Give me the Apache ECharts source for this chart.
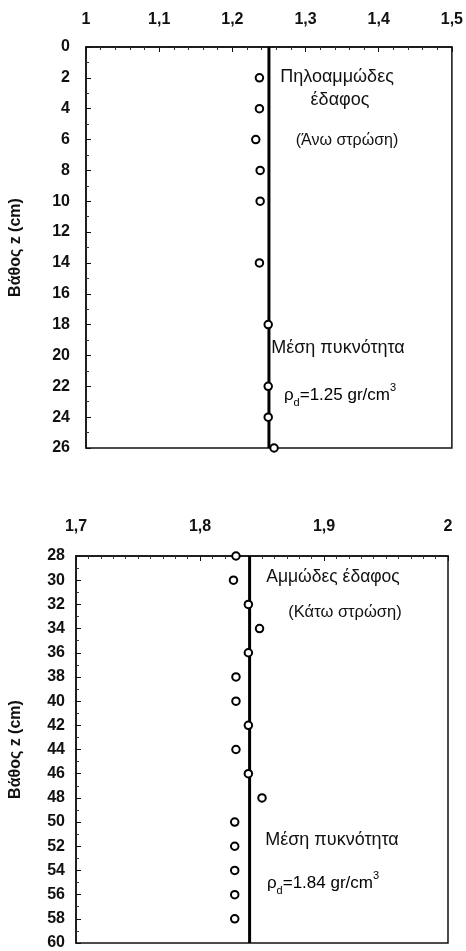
<!DOCTYPE html>
<html>
<head>
<meta charset="utf-8">
<script src="https://cdn.jsdelivr.net/npm/echarts@6/dist/echarts.min.js"></script>
<style>
  html, body { margin: 0; padding: 0; background: #fff; }
  #chart { width: 466px; height: 951px; }
</style>
</head>
<body>
<div id="chart"></div>
<script>
// upper layer (clayey sand)
var depthTop = [2, 4, 6, 8, 10, 14, 18, 22, 24, 26]
var densityTop = [1.237, 1.237, 1.232, 1.238, 1.238, 1.237, 1.249, 1.249, 1.249, 1.257]
var meanTop = 1.25
var depthRangeTop = [0, 26]
var densityRangeTop = [1, 1.5]

// lower layer (sand)
var depthBottom = [28, 30, 32, 34, 36, 38, 40, 42, 44, 46, 48, 50, 52, 54, 56, 58]
var densityBottom = [1.829, 1.827, 1.839, 1.848, 1.839, 1.829, 1.829, 1.839, 1.829, 1.839, 1.850, 1.828, 1.828, 1.828, 1.828, 1.828]
var meanBottom = 1.84
var depthRangeBottom = [28, 60]
var densityRangeBottom = [1.7, 2]

var FONT = '"Liberation Sans", Arial, sans-serif'
var INK = '#111'

function comma(v) {
  return String(Math.round(v * 10) / 10).replace('.', ',')
}

function pairs(xs, ys) {
  return xs.map(function (x, i) { return [x, ys[i]] })
}

function xAxisFor(idx, range, interval, minorSplit, margin) {
  return {
    gridIndex: idx,
    type: 'value',
    position: 'top',
    min: range[0],
    max: range[1],
    interval: interval,
    axisLine: { show: true, lineStyle: { color: INK, width: 1.5 } },
    axisTick: { show: true, inside: true, length: 5, lineStyle: { color: INK } },
    minorTick: { show: true, splitNumber: minorSplit, length: 3, lineStyle: { color: '#333' } },
    splitLine: { show: false },
    axisLabel: {
      margin: margin, color: INK, fontFamily: FONT, fontSize: 16, fontWeight: 'bold',
      formatter: comma
    }
  }
}

function yAxisFor(idx, range, margin, gap) {
  return {
    gridIndex: idx,
    type: 'value',
    inverse: true,
    min: range[0],
    max: range[1],
    interval: 2,
    name: 'Βάθος z (cm)',
    nameLocation: 'middle',
    nameGap: gap,
    nameRotate: 90,
    nameTextStyle: { color: INK, fontFamily: FONT, fontSize: 16, fontWeight: 'bold' },
    axisLine: { show: true, lineStyle: { color: INK, width: 1.5 } },
    axisTick: { show: true, inside: true, length: 5, lineStyle: { color: INK } },
    minorTick: { show: true, splitNumber: 2, length: 3, lineStyle: { color: '#333' } },
    splitLine: { show: false },
    axisLabel: { margin: margin, color: INK, fontFamily: FONT, fontSize: 16, fontWeight: 'bold' }
  }
}

function pointsSeries(idx, data) {
  return {
    type: 'scatter',
    xAxisIndex: idx,
    yAxisIndex: idx,
    data: data,
    symbol: 'circle',
    symbolSize: 7.5,
    z: 3,
    itemStyle: { color: '#fff', borderColor: '#000', borderWidth: 2, opacity: 1 }
  }
}

function meanSeries(idx, mean, range) {
  return {
    type: 'line',
    xAxisIndex: idx,
    yAxisIndex: idx,
    data: [[mean, range[0]], [mean, range[1]]],
    symbol: 'none',
    z: 2,
    lineStyle: { color: '#000', width: 3 }
  }
}

function note(x, y, text, size) {
  return {
    type: 'text', x: x, y: y,
    style: {
      text: text, fill: INK, font: size + 'px ' + FONT,
      textAlign: 'center', textVerticalAlign: 'middle'
    }
  }
}

function rho(x, y, value) {
  return {
    type: 'text', x: x, y: y,
    style: {
      text: '{m|ρ}{s|d}{m|=' + value + ' gr/cm}{p|3}',
      textAlign: 'center', textVerticalAlign: 'middle',
      rich: {
        m: { fontSize: 17, fontFamily: FONT, color: INK, verticalAlign: 'middle' },
        s: { fontSize: 11, fontFamily: FONT, color: INK, verticalAlign: 'bottom', lineHeight: 26 },
        p: { fontSize: 11, fontFamily: FONT, color: INK, verticalAlign: 'top', lineHeight: 24 }
      }
    }
  }
}

var chart = echarts.init(document.getElementById('chart'))
chart.setOption({
  backgroundColor: '#fff',
  animation: false,
  grid: [
    { left: 81, right: 13, top: 47, height: 401, show: true, borderColor: INK, borderWidth: 1.5 },
    { left: 70, right: 18, top: 556, height: 392, show: true, borderColor: INK, borderWidth: 1.5 }
  ],
  xAxis: [
    xAxisFor(0, densityRangeTop, 0.1, 5, 19),
    xAxisFor(1, densityRangeBottom, 0.1, 10, 21)
  ],
  yAxis: [
    yAxisFor(0, depthRangeTop, 16, 62),
    yAxisFor(1, depthRangeBottom, 11, 52)
  ],
  series: [
    meanSeries(0, meanTop, depthRangeTop),
    pointsSeries(0, pairs(densityTop, depthTop)),
    meanSeries(1, meanBottom, depthRangeBottom),
    pointsSeries(1, pairs(densityBottom, depthBottom))
  ],
  graphic: [
    note(337, 77, 'Πηλοαμμώδες', 18),
    note(340, 100, 'έδαφος', 18),
    note(347, 141, '(Άνω στρώση)', 16),
    note(338, 348, 'Μέση πυκνότητα', 18),
    rho(340, 395, '1.25'),
    note(333, 577, 'Αμμώδες έδαφος', 17.5),
    note(345, 612, '(Κάτω στρώση)', 16.5),
    note(332, 840, 'Μέση πυκνότητα', 18),
    rho(323, 883, '1.84')
  ]
})
</script>
</body>
</html>
